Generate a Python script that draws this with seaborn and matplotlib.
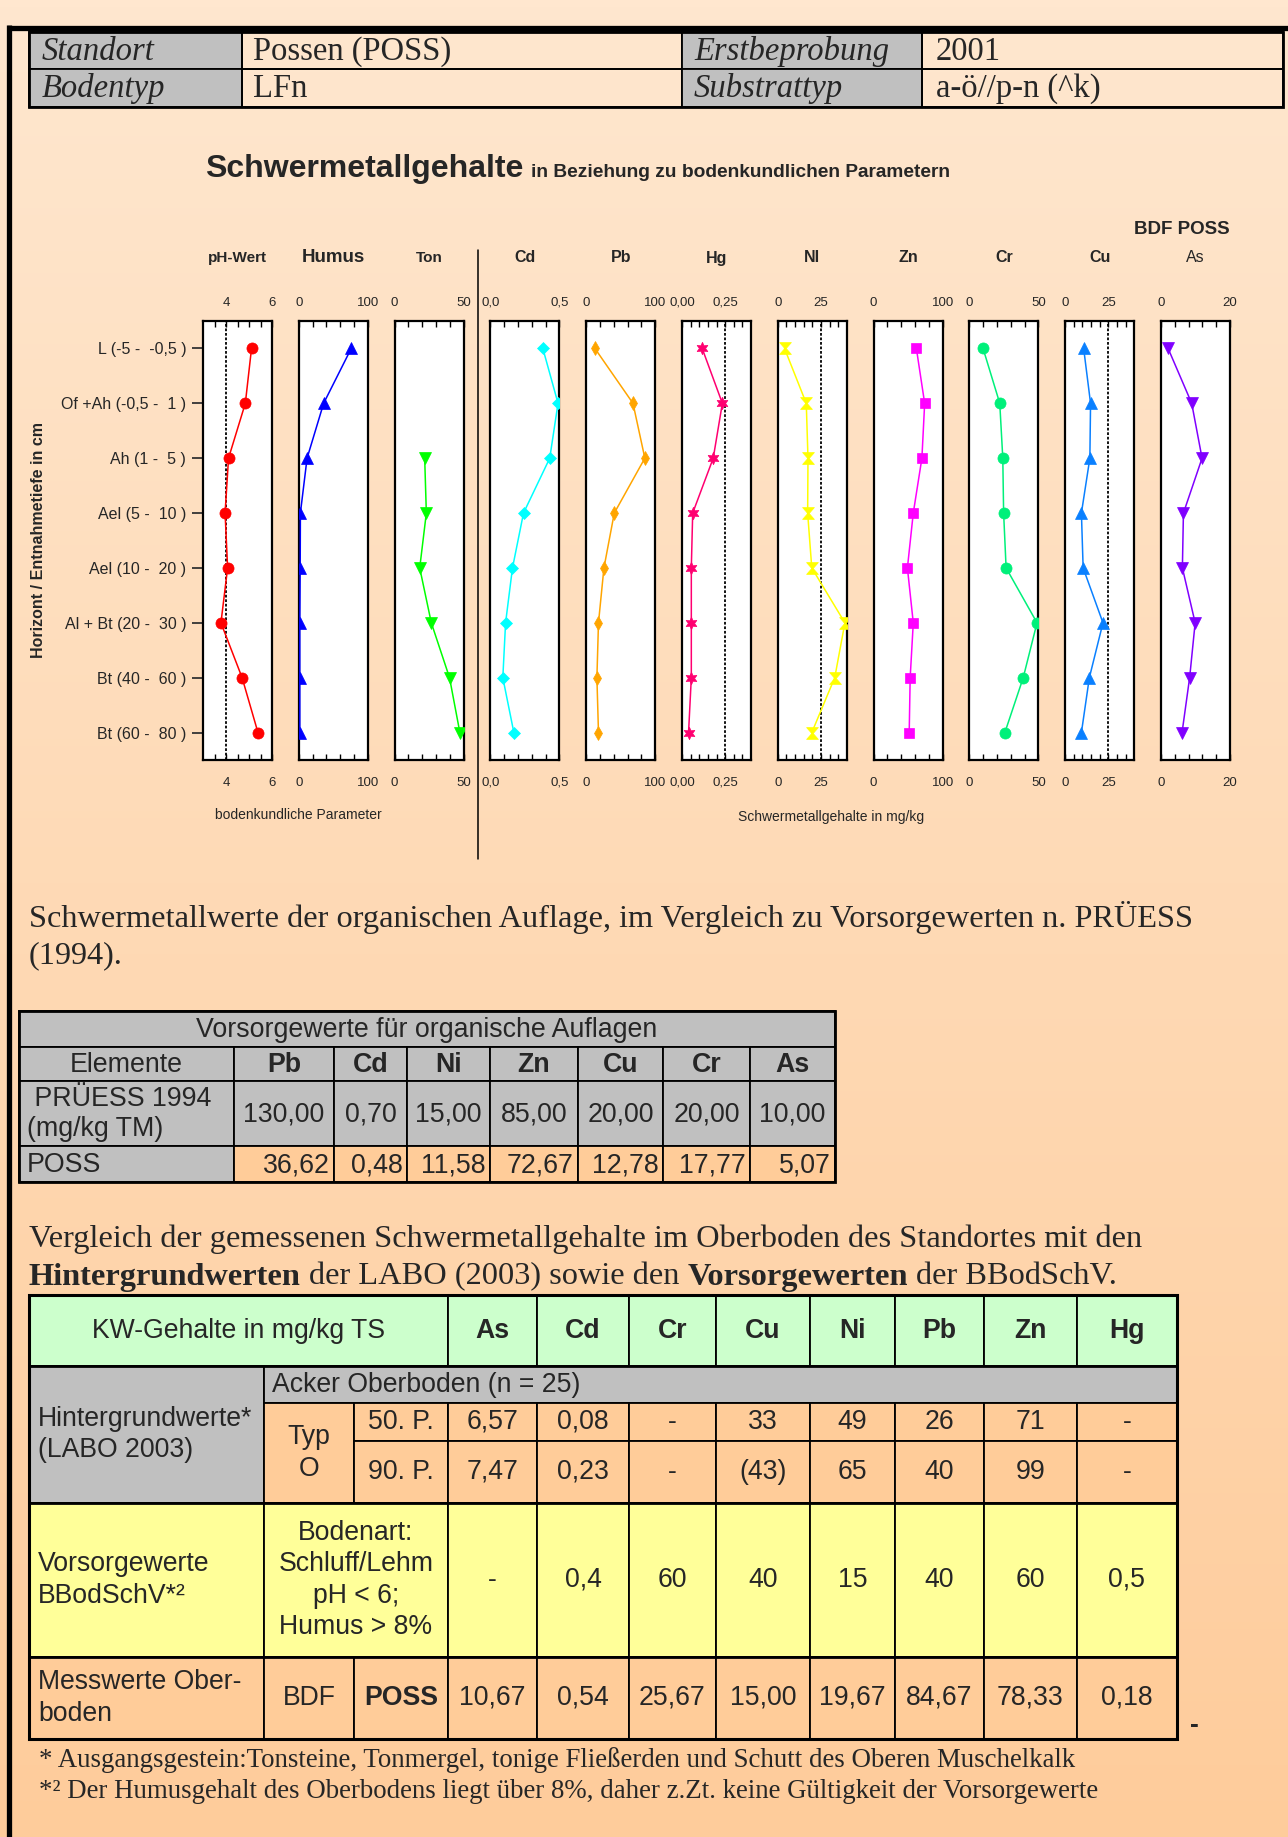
import numpy as np
import pandas as pd
import matplotlib
matplotlib.use("Agg")
import matplotlib.pyplot as plt
import matplotlib.transforms as mtransforms
import seaborn as sns
from matplotlib.path import Path
from matplotlib.patches import Rectangle

# ---- data ----
horizons = ["L (-5 -  -0,5 )", "Of +Ah (-0,5 -  1 )", "Ah (1 -  5 )", "Ael (5 -  10 )",
            "Ael (10 -  20 )", "Al + Bt (20 -  30 )", "Bt (40 -  60 )", "Bt (60 -  80 )"]
ph = [5.11, 4.84, 4.11, 3.96, 4.07, 3.78, 4.70, 5.39]
humus = [76, 36, 12, 2.3, 2.0, 1.5, 1.5, 1.5]
ton = [np.nan, np.nan, 21.8, 23.0, 18.2, 26.6, 39.8, 47.3]
cd = [0.38, 0.49, 0.43, 0.24, 0.16, 0.11, 0.09, 0.17]
pb = [12.6, 67.8, 85.0, 40.7, 25.7, 17.8, 15.5, 17.8]
hg = [0.117, 0.234, 0.181, 0.062, 0.054, 0.054, 0.054, 0.038]
ni = [3.9, 16.5, 17.5, 17.3, 19.7, 38.9, 33.0, 19.7]
zn = [62, 74, 70, 57.5, 49, 57.5, 53, 51.6]
cr = [9.9, 22.0, 24.2, 24.8, 26.6, 49.0, 39.0, 25.7]
cu = [10.7, 14.7, 14.3, 9.4, 10.4, 21.9, 14.0, 9.4]
as_ = [2.06, 8.9, 11.9, 6.5, 6.2, 9.9, 8.3, 6.1]

hdr_left = [("Standort", "Possen (POSS)"), ("Bodentyp", "LFn")]
hdr_right = [("Erstbeprobung", "2001"), ("Substrattyp", "a-ö//p-n (^k)")]

t1_elements = ["Pb", "Cd", "Ni", "Zn", "Cu", "Cr", "As"]
t1_pruess = ["130,00", "0,70", "15,00", "85,00", "20,00", "20,00", "10,00"]
t1_poss = ["36,62", "0,48", "11,58", "72,67", "12,78", "17,77", "5,07"]

t2_elements = ["As", "Cd", "Cr", "Cu", "Ni", "Pb", "Zn", "Hg"]
t2_p50 = ["6,57", "0,08", "-", "33", "49", "26", "71", "-"]
t2_p90 = ["7,47", "0,23", "-", "(43)", "65", "40", "99", "-"]
t2_vorsorge = ["-", "0,4", "60", "40", "15", "40", "60", "0,5"]
t2_mess = ["10,67", "0,54", "25,67", "15,00", "19,67", "84,67", "78,33", "0,18"]

# ---- figure ----
sns.set_style("white")
plt.rcParams["font.family"] = ["Liberation Sans", "DejaVu Sans"]
W, H = 1288, 1837
fig = plt.figure(figsize=(W / 100, H / 100), dpi=100)
SERIF = ["Liberation Serif", "DejaVu Serif"]

bg = fig.add_axes([0, 0, 1, 1])
bg.set_xlim(0, W)
bg.set_ylim(H, 0)
bg.axis("off")
top_c = np.array([255, 231, 207]) / 255
bot_c = np.array([254, 204, 155]) / 255
g = np.linspace(0, 1, 256)[:, None, None]
bg.imshow(top_c + (bot_c - top_c) * g, extent=[0, W, H, 0], aspect="auto", zorder=0)
bg.plot([7, W], [27.5, 27.5], color="black", lw=3.8, zorder=5, solid_capstyle="butt")
bg.plot([9.5, 9.5], [25, H], color="black", lw=3.8, zorder=5, solid_capstyle="butt")

GRAY, GREEN, YELLOW, PEACH = "#C0C0C0", "#CCFFCC", "#FFFF99", "#FFCC99"
renderer = fig.canvas.get_renderer()


def cell(x0, y0, x1, y1, fc, lw=1.3):
    bg.add_patch(Rectangle((x0, y0), x1 - x0, y1 - y0, facecolor=fc,
                           edgecolor="black", lw=lw, zorder=2))


def txt(x, y, s, size, ha="left", va="center", **kw):
    return bg.text(x, y, s, fontsize=size, ha=ha, va=va, zorder=6, **kw)


def twidth(s, size, weight="normal", family=SERIF):
    tt = bg.text(0, 0, s, fontsize=size, family=family, weight=weight)
    w = tt.get_window_extent(renderer=renderer).width
    tt.remove()
    return w


def rich_line(x, y, parts, size):
    sp = twidth("a a", size) - twidth("aa", size)
    for s, weight in parts:
        lead = len(s) - len(s.lstrip(" "))
        trail = len(s) - len(s.rstrip(" "))
        x += lead * sp
        t = txt(x, y, s.strip(" "), size, family=SERIF, weight=weight)
        x += t.get_window_extent(renderer=renderer).width + trail * sp


# header table
hx = [29, 242, 682, 922, 1283]
hy = [32, 69, 107]
for r in range(2):
    cell(hx[0], hy[r], hx[1], hy[r + 1], GRAY)
    cell(hx[1], hy[r], hx[2], hy[r + 1], "none")
    cell(hx[2], hy[r], hx[3], hy[r + 1], GRAY)
    cell(hx[3], hy[r], hx[4], hy[r + 1], "none")
    yc = (hy[r] + hy[r + 1]) / 2 + 1
    txt(hx[0] + 13, yc, hdr_left[r][0], 23.5, family=SERIF, style="italic")
    txt(hx[1] + 11, yc, hdr_left[r][1], 23.5, family=SERIF)
    txt(hx[2] + 12, yc, hdr_right[r][0], 23.5, family=SERIF, style="italic")
    txt(hx[3] + 14, yc, hdr_right[r][1], 23.5, family=SERIF)
bg.add_patch(Rectangle((hx[0], hy[0]), hx[4] - hx[0], hy[2] - hy[0], fill=False,
                       edgecolor="black", lw=2, zorder=3))

# chart title
t = txt(205, 177, "Schwermetallgehalte", 23, va="baseline", weight="bold")
tend = t.get_window_extent(renderer=renderer).x1
txt(tend + 8, 177, "in Beziehung zu bodenkundlichen Parametern", 13.8, va="baseline", weight="bold")
txt(1182, 229, "BDF POSS", 13.5, ha="center", weight="bold")

# ---- profile panels ----
hourglass = Path([(-1, 1), (1, 1), (0.12, 0), (1, -1), (-1, -1), (-0.12, 0), (-1, 1)],
                 [Path.MOVETO] + [Path.LINETO] * 5 + [Path.CLOSEPOLY])

panels = [
    dict(title="pH-Wert", vals=ph, lim=(3, 6), major=[4, 6], labels=["4", "6"],
         minor=[3.5, 4.5, 5, 5.5], ref=4, color="#FF0000", marker="o", ms=8, tsize=11, tw="bold"),
    dict(title="Humus", vals=humus, lim=(0, 100), major=[0, 100], labels=["0", "100"],
         minor=[20, 40, 60, 80], ref=None, color="#0000FF", marker="^", ms=8, tsize=13.5, tw="bold"),
    dict(title="Ton", vals=ton, lim=(0, 50), major=[0, 50], labels=["0", "50"],
         minor=[10, 20, 30, 40], ref=None, color="#00FF00", marker="v", ms=8, tsize=11, tw="bold"),
    dict(title="Cd", vals=cd, lim=(0, 0.5), major=[0, 0.5], labels=["0,0", "0,5"],
         minor=[0.1, 0.2, 0.3, 0.4], ref=None, color="#00FFFF", marker="D", ms=6.5, tsize=11.5, tw="bold"),
    dict(title="Pb", vals=pb, lim=(0, 100), major=[0, 100], labels=["0", "100"],
         minor=[20, 40, 60, 80], ref=None, color="#FFA500", marker="d", ms=7, tsize=11.5, tw="bold"),
    dict(title="Hg", vals=hg, lim=(0, 0.4), major=[0, 0.25], labels=["0,00", "0,25"],
         minor=[0.05, 0.1, 0.15, 0.2, 0.3, 0.35], ref=0.25, color="#FF0070", marker=(6, 1, 0), ms=9, tsize=11.5, tw="bold"),
    dict(title="NI", vals=ni, lim=(0, 40), major=[0, 25], labels=["0", "25"],
         minor=[5, 10, 15, 20, 30, 35], ref=25, color="#FFFF00", marker=hourglass, ms=8.5, tsize=11.5, tw="bold"),
    dict(title="Zn", vals=zn, lim=(0, 100), major=[0, 100], labels=["0", "100"],
         minor=[20, 40, 60, 80], ref=None, color="#FF00FF", marker="s", ms=7, tsize=11.5, tw="bold"),
    dict(title="Cr", vals=cr, lim=(0, 50), major=[0, 50], labels=["0", "50"],
         minor=[10, 20, 30, 40], ref=None, color="#00F07A", marker="o", ms=8, tsize=11.5, tw="bold"),
    dict(title="Cu", vals=cu, lim=(0, 40), major=[0, 25], labels=["0", "25"],
         minor=[5, 10, 15, 20, 30, 35], ref=25, color="#0A80FF", marker="^", ms=8, tsize=11.5, tw="bold"),
    dict(title="As", vals=as_, lim=(0, 20), major=[0, 20], labels=["0", "20"],
         minor=[4, 8, 12, 16], ref=None, color="#8000FF", marker="v", ms=8, tsize=11.5, tw="normal"),
]

ptop, pbot, pw = 321, 760, 69
down = mtransforms.ScaledTranslation(0, -3 / 72, fig.dpi_scale_trans)
for i, p in enumerate(panels):
    x0 = 203 + 95.8 * i
    ax = fig.add_axes([x0 / W, 1 - pbot / H, pw / W, (pbot - ptop) / H])
    ax.set_facecolor("white")
    df = pd.DataFrame({"v": p["vals"], "depth": np.arange(len(horizons))}).dropna()
    sns.lineplot(data=df, x="v", y="depth", orient="y", sort=False, errorbar=None,
                 color=p["color"], marker=p["marker"], markersize=p["ms"],
                 markeredgecolor=p["color"], markeredgewidth=0.5, linewidth=1.1, ax=ax, zorder=3)
    if p["ref"] is not None:
        ax.axvline(p["ref"], color="black", ls=(0, (1.5, 1)), lw=1.3, zorder=2)
    ax.set_xlim(*p["lim"])
    ax.set_ylim(7.5, -0.5)
    ax.set_xticks(p["major"])
    ax.set_xticklabels(p["labels"])
    ax.set_xticks(p["minor"], minor=True)
    ax.tick_params(axis="x", which="both", direction="in", top=True, bottom=True,
                   labeltop=True, labelbottom=True, length=4, width=1, color="black",
                   labelsize=9.5, pad=9)
    for tk in ax.xaxis.get_major_ticks():
        tk.label1.set_transform(tk.label1.get_transform() + down)
    if i == 0:
        ax.set_yticks(range(len(horizons)))
        ax.set_yticklabels(horizons)
        ax.tick_params(axis="y", direction="out", length=8, width=1.3, color="#333333",
                       labelsize=11.5, pad=4, left=True)
    else:
        ax.set_yticks([])
    ax.set_xlabel("")
    ax.set_ylabel("")
    for s in ax.spines.values():
        s.set_visible(True)
        s.set_linewidth(1.6)
        s.set_color("black")
    txt(x0 + pw / 2, 258, p["title"], p["tsize"], ha="center", weight=p["tw"])

bg.plot([478, 478], [250, 859], color="black", lw=1.1, zorder=5)
txt(39, 540, "Horizont / Entnahmetiefe in cm", 11.5, ha="center", weight="bold", rotation=90)
txt(298, 815, "bodenkundliche Parameter", 10, ha="center")
txt(831, 817, "Schwermetallgehalte in mg/kg", 10, ha="center")

# ---- paragraph text ----
PS = 23.3
txt(29, 918, "Schwermetallwerte der organischen Auflage, im Vergleich zu Vorsorgewerten n. PRÜESS",
    PS, family=SERIF)
txt(29, 956, "(1994).", PS, family=SERIF)

# table 1
c1 = [19, 234, 334, 407, 490, 578, 663, 750, 835]
r1 = [1011, 1047, 1081, 1146, 1182]
F1 = 19.3
cell(c1[0], r1[0], c1[-1], r1[1], GRAY)
txt((c1[0] + c1[-1]) / 2, (r1[0] + r1[1]) / 2 + 1, "Vorsorgewerte für organische Auflagen", F1, ha="center")
cell(c1[0], r1[1], c1[1], r1[2], GRAY)
txt((c1[0] + c1[1]) / 2, (r1[1] + r1[2]) / 2 + 1, "Elemente", F1, ha="center")
cell(c1[0], r1[2], c1[1], r1[3], GRAY)
txt(c1[0] + 8, (r1[2] + r1[3]) / 2 + 1, " PRÜESS 1994\n(mg/kg TM)", F1, linespacing=1.2)
cell(c1[0], r1[3], c1[1], r1[4], GRAY)
txt(c1[0] + 8, (r1[3] + r1[4]) / 2 + 1, "POSS", F1)
for j, el in enumerate(t1_elements):
    xa, xb = c1[j + 1], c1[j + 2]
    cell(xa, r1[1], xb, r1[2], GRAY)
    txt((xa + xb) / 2, (r1[1] + r1[2]) / 2 + 1, el, F1, ha="center", weight="bold")
    cell(xa, r1[2], xb, r1[3], GRAY)
    txt((xa + xb) / 2, (r1[2] + r1[3]) / 2 + 1, t1_pruess[j], F1, ha="center")
    cell(xa, r1[3], xb, r1[4], PEACH)
    txt(xb - 4, (r1[3] + r1[4]) / 2 + 1, t1_poss[j], F1, ha="right")
bg.add_patch(Rectangle((c1[0], r1[0]), c1[-1] - c1[0], r1[-1] - r1[0], fill=False,
                       edgecolor="black", lw=2, zorder=3))

# paragraph 2
rich_line(29, 1239, [("Vergleich der gemessenen Schwermetallgehalte im Oberboden des Standortes mit den", "normal")], PS)
rich_line(29, 1277, [("Hintergrundwerten", "bold"), (" der LABO (2003) sowie den ", "normal"),
                     ("Vorsorgewerten", "bold"), (" der BBodSchV.", "normal")], PS)

# table 2
c2 = [29, 264, 354, 448, 537, 629, 716, 810, 895, 984, 1077, 1177]
r2 = [1295, 1366, 1403, 1441, 1503, 1657, 1739]
FS = 19.2
LS = 1.26
cell(c2[0], r2[0], c2[3], r2[1], GREEN)
txt((c2[0] + c2[3]) / 2, (r2[0] + r2[1]) / 2, "KW-Gehalte in mg/kg TS", FS, ha="center")
cell(c2[0], r2[1], c2[1], r2[4], GRAY)
txt(c2[0] + 9, (r2[1] + r2[4]) / 2, "Hintergrundwerte*\n(LABO 2003)", FS, linespacing=LS)
cell(c2[1], r2[1], c2[-1], r2[2], GRAY)
txt(c2[1] + 8, (r2[1] + r2[2]) / 2, "Acker Oberboden (n = 25)", FS)
cell(c2[1], r2[2], c2[2], r2[4], PEACH)
txt((c2[1] + c2[2]) / 2, (r2[2] + r2[4]) / 2, "Typ\nO", FS, ha="center", linespacing=LS)
cell(c2[2], r2[2], c2[3], r2[3], PEACH)
txt((c2[2] + c2[3]) / 2, (r2[2] + r2[3]) / 2, "50. P.", FS, ha="center")
cell(c2[2], r2[3], c2[3], r2[4], PEACH)
txt((c2[2] + c2[3]) / 2, (r2[3] + r2[4]) / 2, "90. P.", FS, ha="center")
cell(c2[0], r2[4], c2[1], r2[5], YELLOW)
txt(c2[0] + 9, (r2[4] + r2[5]) / 2, "Vorsorgewerte\nBBodSchV*²", FS, linespacing=LS)
cell(c2[1], r2[4], c2[3], r2[5], YELLOW)
txt((c2[1] + c2[3]) / 2, (r2[4] + r2[5]) / 2, "Bodenart:\nSchluff/Lehm\npH < 6;\nHumus > 8%", FS,
    ha="center", linespacing=LS)
cell(c2[0], r2[5], c2[1], r2[6], PEACH)
txt(c2[0] + 9, (r2[5] + r2[6]) / 2, "Messwerte Ober-\nboden", FS, linespacing=LS)
cell(c2[1], r2[5], c2[2], r2[6], PEACH)
txt((c2[1] + c2[2]) / 2, (r2[5] + r2[6]) / 2, "BDF", FS, ha="center")
cell(c2[2], r2[5], c2[3], r2[6], PEACH)
txt((c2[2] + c2[3]) / 2, (r2[5] + r2[6]) / 2, "POSS", FS, ha="center", weight="bold")
for j, el in enumerate(t2_elements):
    xa, xb = c2[j + 3], c2[j + 4]
    xm = (xa + xb) / 2
    cell(xa, r2[0], xb, r2[1], GREEN)
    txt(xm, (r2[0] + r2[1]) / 2, el, FS, ha="center", weight="bold")
    cell(xa, r2[2], xb, r2[3], PEACH)
    txt(xm, (r2[2] + r2[3]) / 2, t2_p50[j], FS, ha="center")
    cell(xa, r2[3], xb, r2[4], PEACH)
    txt(xm, (r2[3] + r2[4]) / 2, t2_p90[j], FS, ha="center")
    cell(xa, r2[4], xb, r2[5], YELLOW)
    txt(xm, (r2[4] + r2[5]) / 2, t2_vorsorge[j], FS, ha="center")
    cell(xa, r2[5], xb, r2[6], PEACH)
    txt(xm, (r2[5] + r2[6]) / 2, t2_mess[j], FS, ha="center")
for yy in [r2[1], r2[4], r2[5]]:
    bg.plot([c2[0], c2[-1]], [yy, yy], color="black", lw=2, zorder=3)
bg.add_patch(Rectangle((c2[0], r2[0]), c2[-1] - c2[0], r2[-1] - r2[0], fill=False,
                       edgecolor="black", lw=2.2, zorder=3))
txt(1190, 1725, "-", 19, weight="bold")

# footnotes
txt(39, 1760, "* Ausgangsgestein:Tonsteine, Tonmergel, tonige Fließerden und Schutt des Oberen Muschelkalk",
    19.35, family=SERIF)
txt(39, 1792, "*² Der Humusgehalt des Oberbodens liegt über 8%, daher z.Zt. keine Gültigkeit der Vorsorgewerte",
    19.35, family=SERIF)

fig.savefig("out.png", dpi=100)
